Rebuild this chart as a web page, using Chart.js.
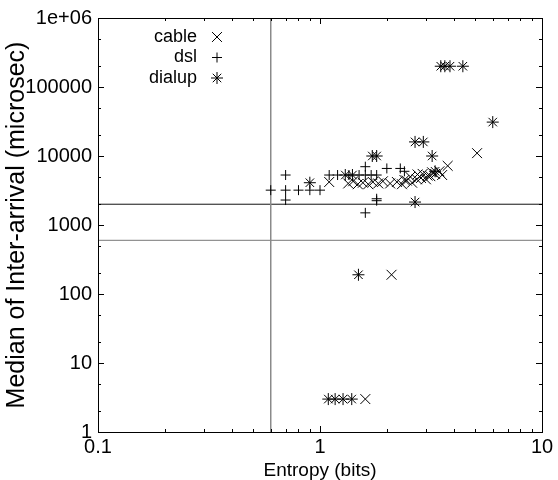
<!DOCTYPE html>
<html>
<head>
<meta charset="utf-8">
<title>Entropy vs inter-arrival</title>
<script src="https://cdn.jsdelivr.net/npm/chart.js@4.4.0/dist/chart.umd.min.js"></script>
<style>
  html, body { margin: 0; padding: 0; background: #fff; }
  #wrap { width: 558px; height: 480px; }
</style>
</head>
<body>
<div id="wrap"><canvas id="myChart" width="558" height="480"></canvas></div>
<script>
// data (entropy in bits, median inter-arrival in microsec)
const cableX = [1.1, 1.34, 1.41, 1.48, 1.56, 1.65, 1.73, 1.83, 1.92, 2.07, 2.22, 2.34, 2.46, 2.6, 2.73,
  2.4, 2.55, 2.75, 2.9, 3.05, 3.2, 3.3, 3.45, 3.55, 2.85, 3.0, 3.14, 3.76, 5.1, 2.1, 1.6];
const cableY = [4200, 4000, 4300, 3900, 4100, 3900, 4200, 4000, 4300, 4000, 4200, 3900, 4400, 4100, 4600,
  4500, 5000, 5400, 5500, 5200, 5800, 5500, 6000, 5300, 4800, 4600, 5100, 7200, 11000, 190, 3];

const dslX = [0.6, 0.7, 0.7, 0.7, 0.8, 0.9, 1.0, 1.1, 1.2, 1.35, 1.5, 1.6, 1.7, 1.8, 1.6, 2.0, 2.3, 2.4,
  1.8, 1.8, 1.6];
const dslY = [3200, 5300, 3200, 2300, 3200, 3200, 3200, 5300, 5300, 5300, 5300, 5300, 5300, 5300, 7000, 6600, 6600, 6000,
  2400, 2250, 1500];

const dialupX = [0.9, 1.3, 1.4, 1.72, 1.8, 2.68, 2.92, 3.2, 3.3, 2.68, 3.5, 3.65, 3.85, 4.4, 6.0, 1.49,
  1.09, 1.17, 1.27, 1.39];
const dialupY = [4100, 5300, 5300, 10000, 10000, 16000, 16000, 10000, 6000, 2150, 200000, 200000, 200000, 200000, 31000, 190,
  3, 3, 3, 3];

// axes
const xTickValues = [0.1, 1, 10];
const xTickLabels = ["0.1", "1", "10"];
const yTickValues = [1, 10, 100, 1000, 10000, 100000, 1000000];
const yTickLabels = ["1", "10", "100", "1000", "10000", "100000", "1e+06"];
const xMinorSteps = [2, 3, 4, 5, 6, 7, 8, 9];
const yMinorSteps = [2, 5];

// threshold lines
const entropyCut = 0.6;
const medianHigh = 2000;
const medianLow = 600;

function pts(xs, ys) {
  return xs.map((x, i) => ({ x: x, y: ys[i] }));
}

Chart.defaults.font.family = "'Liberation Sans', Arial, sans-serif";
Chart.defaults.color = "#000";

// box round the plot with inward ticks on all sides
const frameTicks = {
  id: "frameTicks",
  afterDatasetsDraw(chart) {
    const { ctx, chartArea: a, scales } = chart;
    const x = scales.x, y = scales.y;
    ctx.save();
    ctx.strokeStyle = "#000";
    ctx.lineWidth = 1;
    ctx.beginPath();
    const tick = (px, len, vertical) => {
      if (vertical) {
        ctx.moveTo(px, a.bottom); ctx.lineTo(px, a.bottom - len);
        ctx.moveTo(px, a.top); ctx.lineTo(px, a.top + len);
      } else {
        ctx.moveTo(a.left, px); ctx.lineTo(a.left + len, px);
        ctx.moveTo(a.right, px); ctx.lineTo(a.right - len, px);
      }
    };
    xTickValues.forEach((v, i) => {
      const px = Math.round(x.getPixelForValue(v)) + 0.5;
      tick(px, 6, true);
      if (i < xTickValues.length - 1) {
        xMinorSteps.forEach(m => tick(Math.round(x.getPixelForValue(v * m)) + 0.5, 3, true));
      }
    });
    yTickValues.forEach((v, i) => {
      const py = Math.round(y.getPixelForValue(v)) + 0.5;
      tick(py, 6, false);
      if (i < yTickValues.length - 1) {
        yMinorSteps.forEach(m => tick(Math.round(y.getPixelForValue(v * m)) + 0.5, 3, false));
      }
    });
    ctx.stroke();
    ctx.strokeRect(Math.round(a.left) + 0.5, Math.round(a.top) + 0.5,
      Math.round(a.right - a.left), Math.round(a.bottom - a.top));
    ctx.restore();
  }
};

// gnuplot style key: text right aligned, symbol after it
const keyBox = {
  id: "keyBox",
  afterDraw(chart) {
    const ctx = chart.ctx;
    const a = chart.chartArea;
    ctx.save();
    ctx.font = "18px 'Liberation Sans', Arial, sans-serif";
    ctx.textAlign = "right";
    ctx.textBaseline = "middle";
    ctx.fillStyle = "#000";
    ctx.strokeStyle = "#000";
    let row = 0;
    chart.data.datasets.forEach(ds => {
      if (!ds.label) return;
      const ty = a.top + 19 + row * 20.5;
      ctx.fillText(ds.label, a.left + 99, ty);
      Chart.helpers.drawPoint(ctx, {
        pointStyle: ds.pointStyle, radius: ds.pointRadius, borderWidth: 1, rotation: 0
      }, a.left + 119, ty);
      row++;
    });
    ctx.restore();
  }
};

const ctx = document.getElementById("myChart");
new Chart(ctx, {
  type: "scatter",
  data: {
    datasets: [
      {
        label: "cable",
        data: pts(cableX, cableY),
        pointStyle: "crossRot",
        pointRadius: 7,
        borderColor: "#000",
        borderWidth: 1,
      },
      {
        label: "dsl",
        data: pts(dslX, dslY),
        pointStyle: "cross",
        pointRadius: 5,
        borderColor: "#000",
        borderWidth: 1,
      },
      {
        label: "dialup",
        data: pts(dialupX, dialupY),
        pointStyle: "star",
        pointRadius: 6,
        borderColor: "#000",
        borderWidth: 1,
      },
      {
        type: "line",
        data: [{ x: entropyCut, y: yTickValues[0] }, { x: entropyCut, y: yTickValues[yTickValues.length - 1] }],
        borderColor: "#8a8a8a",
        borderWidth: 1.5,
        pointRadius: 0,
      },
      {
        type: "line",
        data: [{ x: xTickValues[0], y: medianHigh }, { x: xTickValues[xTickValues.length - 1], y: medianHigh }],
        borderColor: "#111",
        borderWidth: 1,
        pointRadius: 0,
      },
      {
        type: "line",
        data: [{ x: xTickValues[0], y: medianLow }, { x: xTickValues[xTickValues.length - 1], y: medianLow }],
        borderColor: "#777",
        borderWidth: 1,
        pointRadius: 0,
      },
    ],
  },
  options: {
    responsive: false,
    animation: false,
    devicePixelRatio: 1,
    layout: {
      padding: { left: 0, top: 18, right: 16, bottom: 0 },
    },
    plugins: {
      legend: { display: false },
      tooltip: { enabled: false },
    },
    scales: {
      x: {
        type: "logarithmic",
        min: 0.1,
        max: 10,
        grid: { display: false, drawTicks: false },
        border: { display: false },
        afterBuildTicks: (s) => { s.ticks = xTickValues.map(v => ({ value: v })); },
        afterFit: (s) => { s.height = 48; },
        ticks: {
          autoSkip: false,
          maxRotation: 0,
          minRotation: 0,
          padding: 3,
          font: { size: 20 },
          callback: (v) => xTickLabels[xTickValues.indexOf(v)],
        },
        title: {
          display: true,
          text: "Entropy (bits)",
          font: { size: 19, lineHeight: 1 },
          padding: { top: 6, bottom: 0 },
        },
      },
      y: {
        type: "logarithmic",
        min: 1,
        max: 1000000,
        grid: { display: false, drawTicks: false },
        border: { display: false },
        afterBuildTicks: (s) => { s.ticks = yTickValues.map(v => ({ value: v })); },
        afterFit: (s) => { s.width = 98; },
        ticks: {
          autoSkip: false,
          padding: 6,
          font: { size: 20 },
          callback: (v) => yTickLabels[yTickValues.indexOf(v)],
        },
        title: {
          display: true,
          text: "Median of Inter-arrival (microsec)",
          font: { size: 25, lineHeight: 1 },
          padding: { top: 5, bottom: 0 },
        },
      },
    },
  },
  plugins: [frameTicks, keyBox],
});
</script>
</body>
</html>
